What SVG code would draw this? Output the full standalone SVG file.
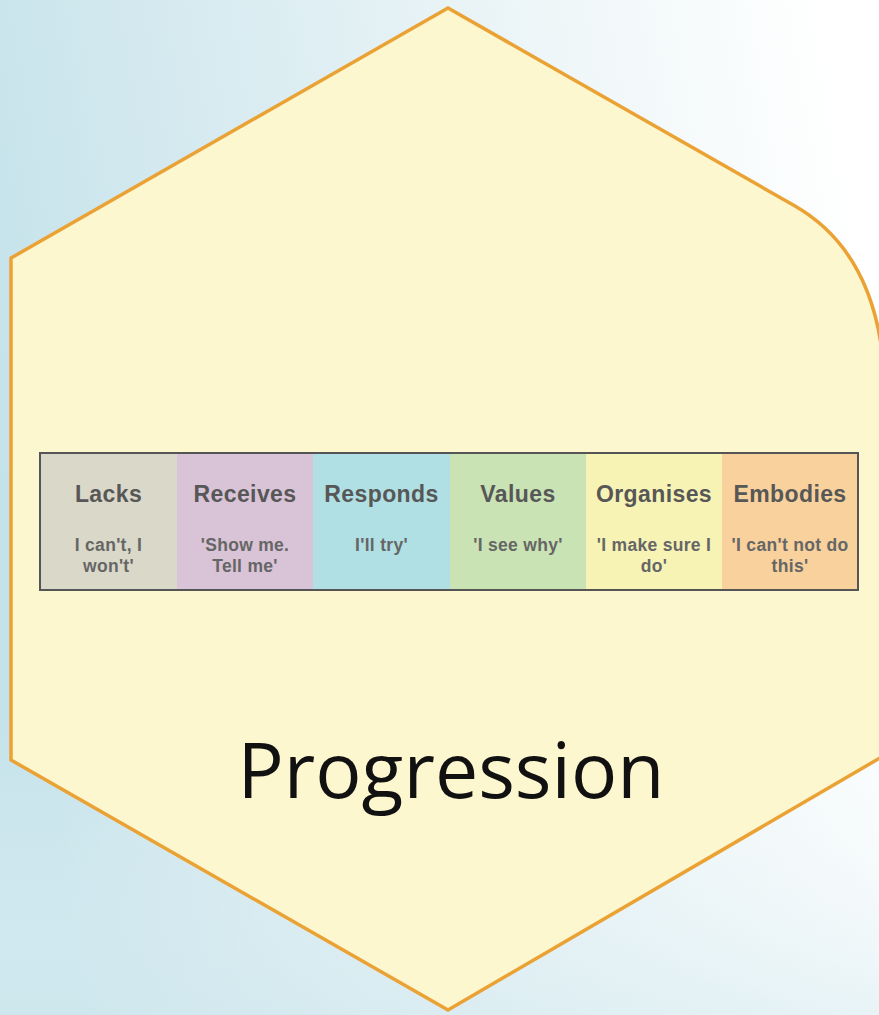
<svg xmlns="http://www.w3.org/2000/svg" width="879" height="1015" viewBox="0 0 879 1015">
<defs>
<linearGradient id="bg" x1="0" y1="0.5" x2="1" y2="0.3">
<stop offset="0" stop-color="#C4E2EA"/>
<stop offset="0.55" stop-color="#E6F2F5"/>
<stop offset="1" stop-color="#FFFFFF"/>
</linearGradient>
<linearGradient id="bg2" x1="0" y1="0" x2="0" y2="1">
<stop offset="0" stop-color="#FFFFFF" stop-opacity="0"/>
<stop offset="0.7" stop-color="#FFFFFF" stop-opacity="0"/>
<stop offset="1" stop-color="#D8ECF1" stop-opacity="0.5"/>
</linearGradient>
<style>
.hdr{font-family:"Liberation Sans",Arial,sans-serif;font-weight:bold;font-size:23px;fill:#575757;text-anchor:middle;letter-spacing:0.4px}
.sub{font-family:"Liberation Sans",Arial,sans-serif;font-weight:bold;font-size:17.5px;fill:#666;text-anchor:middle;letter-spacing:0.3px}
.cell{stroke:none}
</style>
</defs>
<rect width="879" height="1015" fill="url(#bg)"/>
<rect width="879" height="1015" fill="url(#bg2)"/>
<g id="hexagon">
<path d="M448,8 L795,206 Q885,258 885,400 L885,755 L448,1010 L11,760 L11,258 Z" fill="#FDF7D0" stroke="#EBA235" stroke-width="3.5" stroke-linejoin="miter"/>
</g>
<g id="table">
<rect class="cell" x="40" y="453" width="137" height="137" fill="#DAD8C9"/>
<rect class="cell" x="177" y="453" width="136" height="137" fill="#D8C4D6"/>
<rect class="cell" x="313" y="453" width="137" height="137" fill="#B0E0E4"/>
<rect class="cell" x="450" y="453" width="136" height="137" fill="#C9E3B4"/>
<rect class="cell" x="586" y="453" width="136" height="137" fill="#F7F3B5"/>
<rect class="cell" x="722" y="453" width="136" height="137" fill="#F8D19C"/>
<rect x="40" y="453" width="818" height="137" fill="none" stroke="#555" stroke-width="2"/>
</g>
<g id="lacks">
<text class="hdr" x="108.5" y="501.5">Lacks</text>
<text class="sub" x="108.5" y="551">I can't, I</text>
<text class="sub" x="108.5" y="571.5">won't'</text>
</g>
<g id="receives">
<text class="hdr" x="245" y="501.5">Receives</text>
<text class="sub" x="245" y="551">'Show me.</text>
<text class="sub" x="245" y="571.5">Tell me'</text>
</g>
<g id="responds">
<text class="hdr" x="381.5" y="501.5">Responds</text>
<text class="sub" x="381.5" y="551">I'll try'</text>
</g>
<g id="values">
<text class="hdr" x="518" y="501.5">Values</text>
<text class="sub" x="518" y="551">'I see why'</text>
</g>
<g id="organises">
<text class="hdr" x="654" y="501.5">Organises</text>
<text class="sub" x="654" y="551">'I make sure I</text>
<text class="sub" x="654" y="571.5">do'</text>
</g>
<g id="embodies">
<text class="hdr" x="790" y="501.5">Embodies</text>
<text class="sub" x="790" y="551">'I can't not do</text>
<text class="sub" x="790" y="571.5">this'</text>
</g>
<g id="connectors"/>
<g id="title">
<text x="451" y="798" font-family="'Open Sans','Noto Sans',sans-serif" font-size="77" fill="#111" text-anchor="middle">Progression</text>
</g>
</svg>
